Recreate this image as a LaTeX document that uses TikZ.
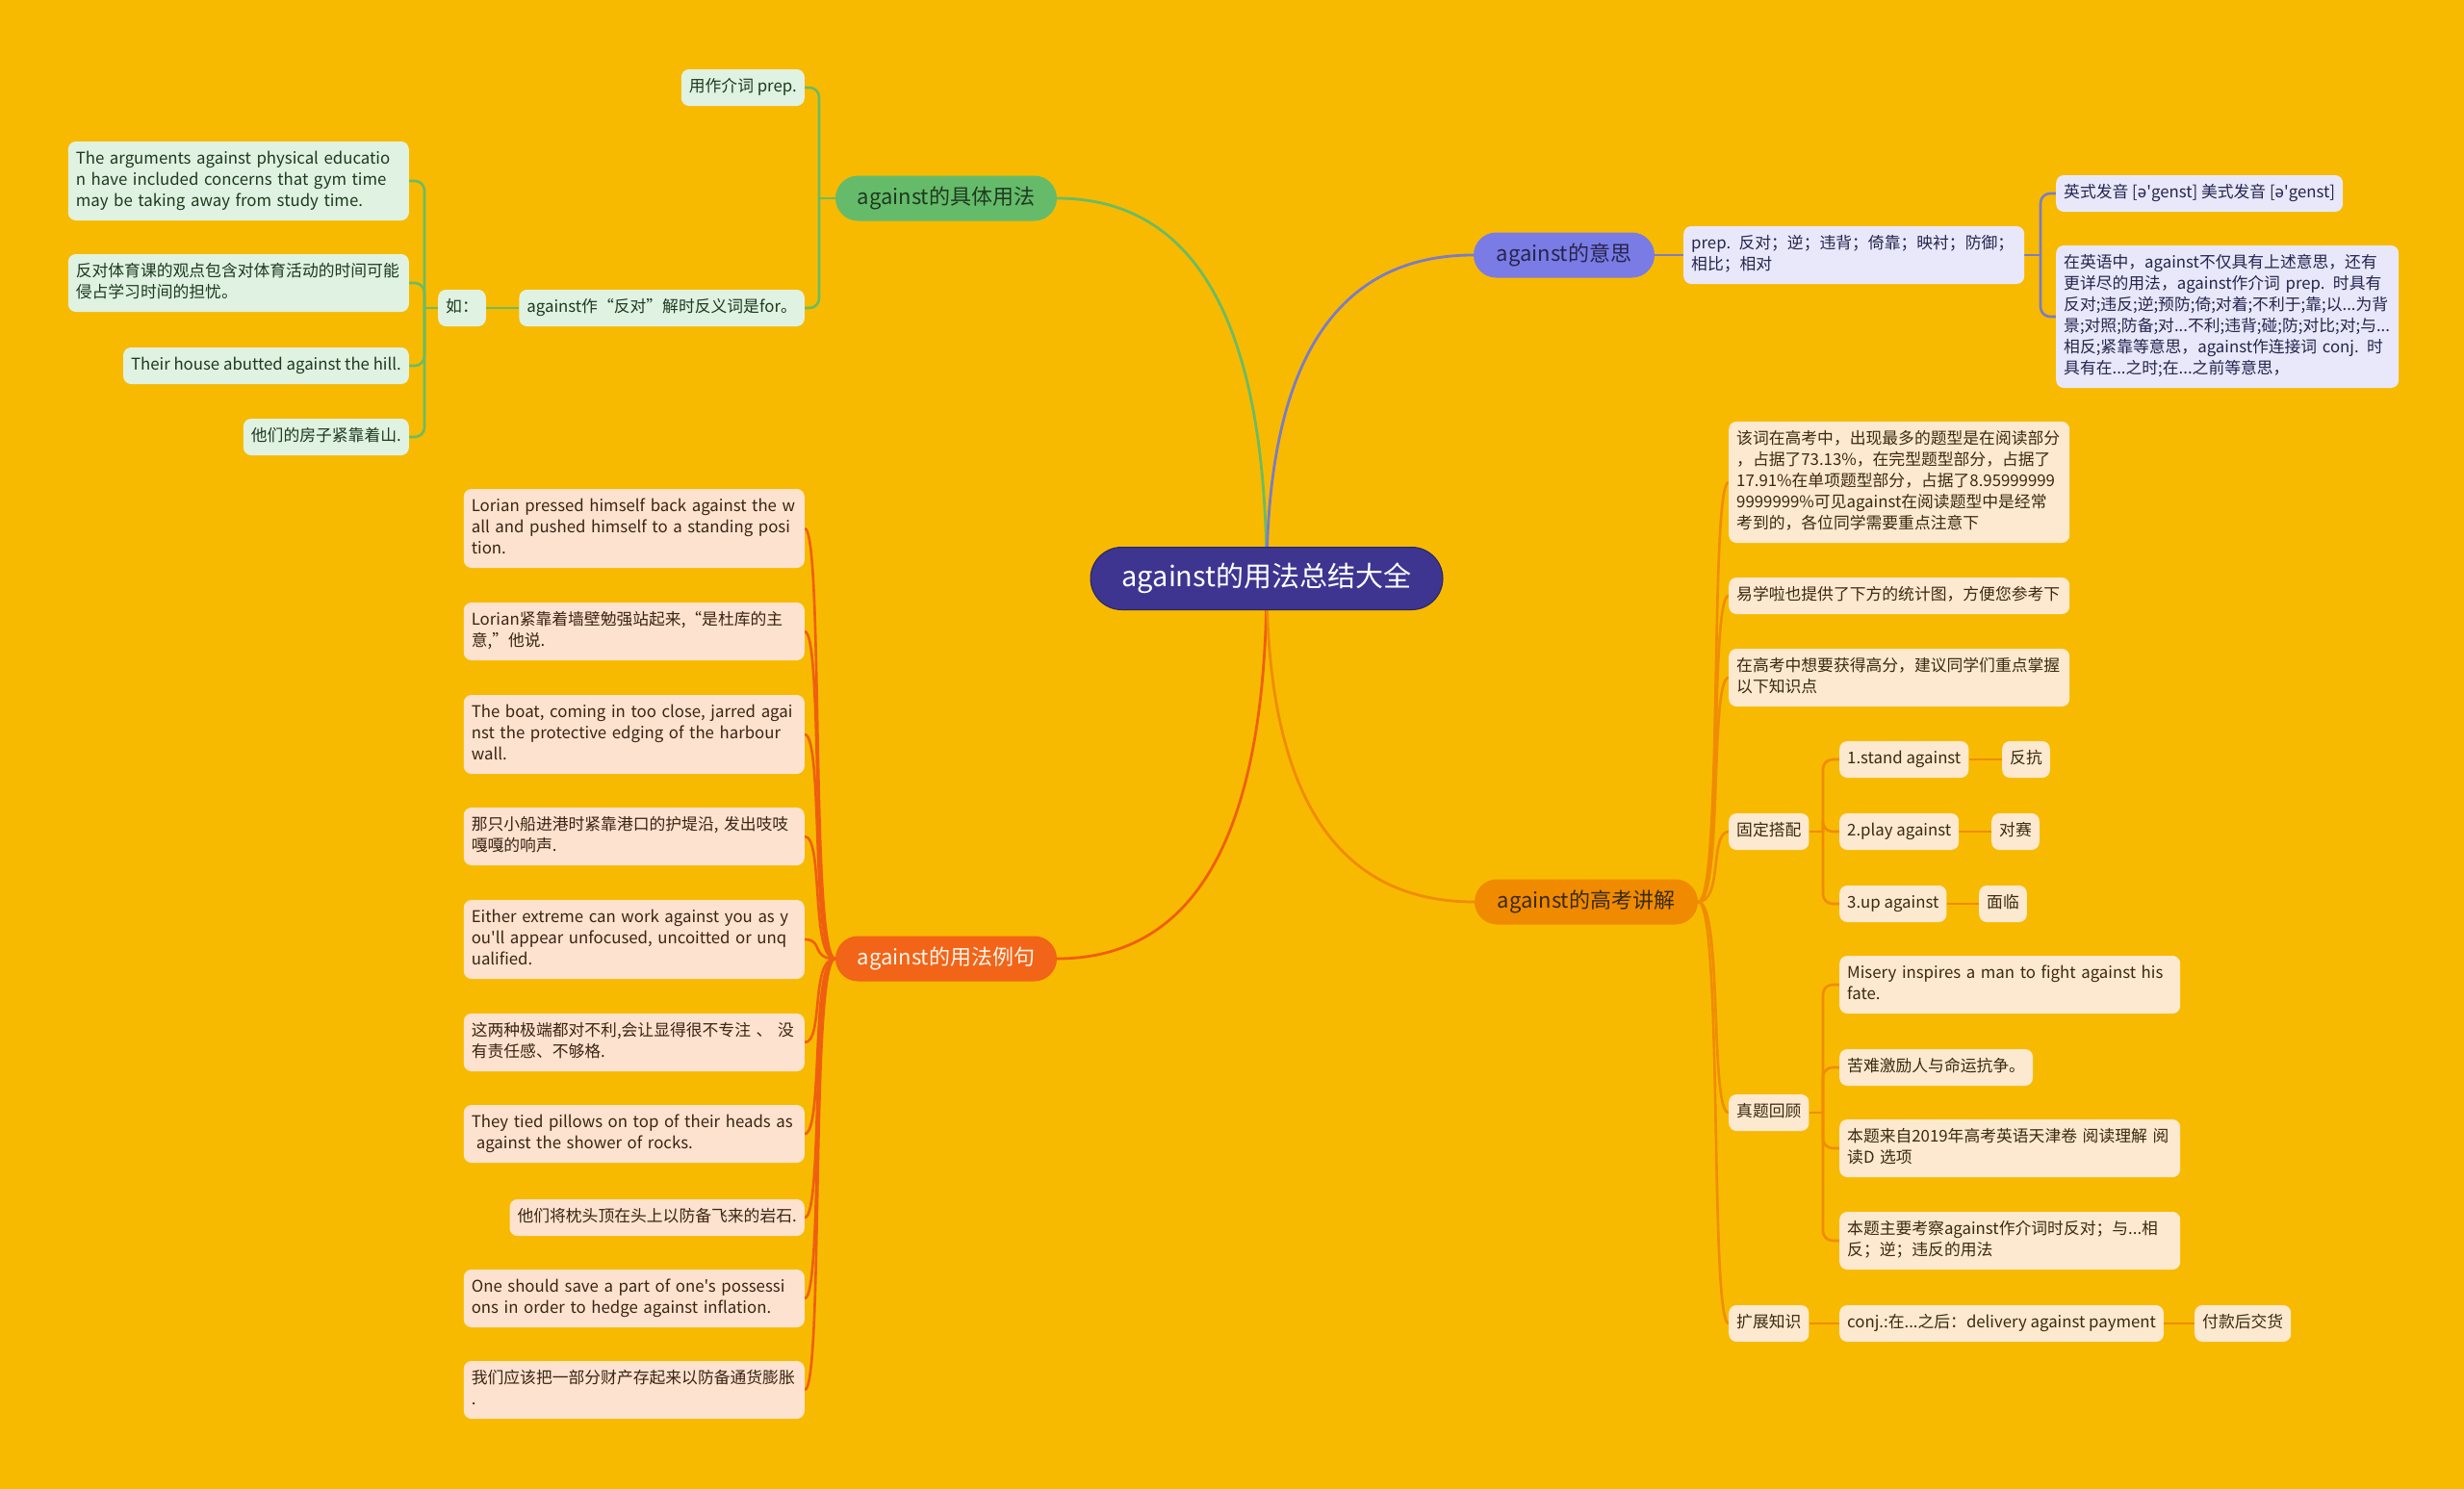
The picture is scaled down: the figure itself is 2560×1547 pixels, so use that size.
\documentclass[tikz,border=0pt]{standalone}
\usepackage{fontspec}
\setmainfont{Noto Sans CJK SC}[Ligatures=TeXOff]
\newfontfamily\ipafont{Noto Sans}[Ligatures=TeXOff]
\usetikzlibrary{calc}
\pgfdeclarelayer{bgl}
\pgfdeclarelayer{conn}
\pgfsetlayers{bgl,conn,main}
\definecolor{bgc}{HTML}{F7BA00}
\definecolor{cfill}{HTML}{3D3590}
\definecolor{gfill}{HTML}{66BB6A}
\definecolor{gline}{HTML}{6DBB63}
\definecolor{gleaff}{HTML}{E0F2E1}
\definecolor{gtext}{HTML}{1E3A20}
\definecolor{bfill}{HTML}{7B7BE6}
\definecolor{bline}{HTML}{7C7CC4}
\definecolor{bleaff}{HTML}{E8E8FA}
\definecolor{btext}{HTML}{25254F}
\definecolor{rfill}{HTML}{F26418}
\definecolor{rline}{HTML}{EF5F0F}
\definecolor{rleaff}{HTML}{FDE2CF}
\definecolor{rtext}{HTML}{3A2414}
\definecolor{ofill}{HTML}{F08A00}
\definecolor{oline}{HTML}{F08C00}
\definecolor{oleaff}{HTML}{FDE9CF}
\definecolor{otext}{HTML}{3A2A12}
\tikzset{
  leaf/.style={rounded corners=8pt, inner xsep=8pt, inner ysep=8pt, align=left,
    font=\fontsize{16.8}{22}\selectfont,
    execute at begin node=\strut, execute at end node=\strut},
  wide/.style={text width=338pt},
  gleaf/.style={leaf, fill=gleaff, text=gtext},
  bleaf/.style={leaf, fill=bleaff, text=btext},
  rleaf/.style={leaf, fill=rleaff, text=rtext},
  oleaf/.style={leaf, fill=oleaff, text=otext},
  mainbr/.style={rounded corners=23.5pt, minimum height=47pt, minimum width=230pt,
    inner xsep=10pt, inner ysep=0pt, font=\fontsize{22}{26}\selectfont},
  conline/.style={line width=2.6pt},
}
\begin{document}
\begin{tikzpicture}[x=1pt,y=-1pt]
\begin{pgfonlayer}{bgl}
\fill[bgc] (0,0) rectangle (2560,1547);
\end{pgfonlayer}
\useasboundingbox (0,0) rectangle (2560,1547);

% centre
\node[rounded corners=32.5pt, minimum width=366pt, minimum height=65pt, fill=cfill,
  draw=cfill!70!black, line width=1pt, text=white, font=\fontsize{29}{34}\selectfont] (C) at (1316,601) {against的用法总结大全};

% main branches
\node[mainbr, fill=gfill, text=gtext] (jt) at (983,206) {against的具体用法};
\node[mainbr, fill=bfill, text=btext, minimum width=188pt] (ys) at (1625,265) {against的意思};
\node[mainbr, fill=rfill, text=white!92!orange] (lj) at (983,996) {against的用法例句};
\node[mainbr, fill=ofill, text=otext, minimum width=232pt] (gk) at (1648,937) {against的高考讲解};

% green leaves
\node[gleaf, anchor=east] (g1) at (836,91) {用作介词 prep.};
\node[gleaf, anchor=east] (g2) at (836,320) {against作“反对”解时反义词是for。};
\node[gleaf, anchor=east] (ru) at (505,320) {如：};
\node[gleaf, wide, anchor=east] (g3) at (425,188) {The arguments against physical educatio\\n have included concerns that gym time\\may be taking away from study time.};
\node[gleaf, wide, anchor=east] (g4) at (425,294) {反对体育课的观点包含对体育活动的时间可能\\侵占学习时间的担忧。};
\node[gleaf, anchor=east] (g5) at (425,380) {Their house abutted against the hill.};
\node[gleaf, anchor=east] (g6) at (425,454) {他们的房子紧靠着山.};

% blue leaves
\node[bleaf, wide, anchor=west] (b1) at (1749,265) {prep. 反对；逆；违背；倚靠；映衬；防御；\\相比；相对};
\node[bleaf, anchor=west] (b2) at (2136,201) {英式发音 [{\ipafont ə}'genst] 美式发音 [{\ipafont ə}'genst]};
\node[bleaf, text width=340pt, anchor=west] (b3) at (2136,329) {在英语中，against不仅具有上述意思，还有\\更详尽的用法，against作介词 prep. 时具有\\反对;违反;逆;预防;倚;对着;不利于;靠;以...为背\\景;对照;防备;对...不利;违背;碰;防;对比;对;与...\\相反;紧靠等意思，against作连接词 conj. 时\\具有在...之时;在...之前等意思，};

% example sentences
\node[rleaf, wide, anchor=east] (e1) at (836,549) {Lorian pressed himself back against the w\\all and pushed himself to a standing posi\\tion.};
\node[rleaf, wide, anchor=east] (e2) at (836,656) {Lorian紧靠着墙壁勉强站起来,“是杜库的主\\意,”他说.};
\node[rleaf, wide, anchor=east] (e3) at (836,763) {The boat, coming in too close, jarred agai\\nst the protective edging of the harbour\\wall.};
\node[rleaf, wide, anchor=east] (e4) at (836,869) {那只小船进港时紧靠港口的护堤沿, 发出吱吱\\嘎嘎的响声.};
\node[rleaf, wide, anchor=east] (e5) at (836,976) {Either extreme can work against you as y\\ou'll appear unfocused, uncoitted or unq\\ualified.};
\node[rleaf, wide, anchor=east] (e6) at (836,1083) {这两种极端都对不利,会让显得很不专注 、 没\\有责任感、不够格.};
\node[rleaf, wide, anchor=east] (e7) at (836,1178) {They tied pillows on top of their heads as\\\hspace*{0.3em}against the shower of rocks.};
\node[rleaf, anchor=east] (e8) at (836,1265) {他们将枕头顶在头上以防备飞来的岩石.};
\node[rleaf, wide, anchor=east] (e9) at (836,1349) {One should save a part of one's possessi\\ons in order to hedge against inflation.};
\node[rleaf, wide, anchor=east] (e10) at (836,1444) {我们应该把一部分财产存起来以防备通货膨胀\\.};

% gaokao leaves
\node[oleaf, wide, anchor=west] (k1) at (1796,501) {该词在高考中，出现最多的题型是在阅读部分\\，占据了73.13\%，在完型题型部分，占据了\\17.91\%在单项题型部分，占据了8.95999999\\9999999\%可见against在阅读题型中是经常\\考到的，各位同学需要重点注意下};
\node[oleaf, wide, anchor=west] (k2) at (1796,619) {易学啦也提供了下方的统计图，方便您参考下};
\node[oleaf, wide, anchor=west] (k3) at (1796,704) {在高考中想要获得高分，建议同学们重点掌握\\以下知识点};
\node[oleaf, anchor=west] (k4) at (1796,864) {固定搭配};
\node[oleaf, anchor=west] (k5) at (1796,1156) {真题回顾};
\node[oleaf, anchor=west] (k6) at (1796,1375) {扩展知识};

\node[oleaf, anchor=west] (f1) at (1911,789) {1.stand against};
\node[oleaf, anchor=west] (f1b) at (2080,789) {反抗};
\node[oleaf, anchor=west] (f2) at (1911,864) {2.play against};
\node[oleaf, anchor=west] (f2b) at (2069,864) {对赛};
\node[oleaf, anchor=west] (f3) at (1911,939) {3.up against};
\node[oleaf, anchor=west] (f3b) at (2056,939) {面临};

\node[oleaf, wide, anchor=west] (z1) at (1911,1023) {Misery inspires a man to fight against his\\fate.};
\node[oleaf, anchor=west] (z2) at (1911,1109) {苦难激励人与命运抗争。};
\node[oleaf, wide, anchor=west] (z3) at (1911,1193) {本题来自2019年高考英语天津卷 阅读理解 阅\\读D 选项};
\node[oleaf, wide, anchor=west] (z4) at (1911,1289) {本题主要考察against作介词时反对；与...相\\反；逆；违反的用法};

\node[oleaf, anchor=west] (x1) at (1911,1375) {conj.:在...之后：delivery against payment};
\node[oleaf, anchor=west] (x1b) at (2280,1375) {付款后交货};

\begin{pgfonlayer}{conn}
% main curves
\draw[gline, line width=2.8pt] (C.center) .. controls ($(C.center)!0.667!(1316,206)$) and ($(jt.east)!0.667!(1316,206)$) .. (jt.east);
\draw[bline, line width=2.8pt] (C.center) .. controls ($(C.center)!0.667!(1316,265)$) and ($(ys.west)!0.667!(1316,265)$) .. (ys.west);
\draw[rline, line width=2.8pt] (C.center) .. controls ($(C.center)!0.667!(1316,996)$) and ($(lj.east)!0.667!(1316,996)$) .. (lj.east);
\draw[oline, line width=2.8pt] (C.center) .. controls ($(C.center)!0.667!(1316,937)$) and ($(gk.west)!0.667!(1316,937)$) .. (gk.west);

% green
\draw[gline, conline] (jt.west) -- (851,206);
\foreach \c in {g1,g2} \draw[gline, conline, rounded corners=10pt] (851,206) |- (\c.east);
\draw[gline, conline] (g2.west) -- (ru.east);
\draw[gline, conline] (ru.west) -- (441,320);
\foreach \c in {g3,g4,g5,g6} \draw[gline, conline, rounded corners=10pt] (441,320) |- (\c.east);

% blue
\draw[bline, conline] (ys.east) -- (b1.west);
\draw[bline, conline] (b1.east) -- (2120,265);
\foreach \c in {b2,b3} \draw[bline, conline, rounded corners=10pt] (2120,265) |- (\c.west);

% examples
\foreach \c in {e1,e2,e3,e4,e5,e6,e7,e8,e9,e10}
  \draw[rline, conline] (lj.west) .. controls +(-26,0) and +(20,0) .. (\c.east);

% gaokao
\foreach \c in {k1,k2,k3,k4,k5,k6}
  \draw[oline, conline] (gk.east) .. controls +(26,0) and +(-20,0) .. (\c.west);
\draw[oline, conline] (k4.east) -- (1894,864);
\foreach \c in {f1,f2,f3} \draw[oline, conline, rounded corners=10pt] (1894,864) |- (\c.west);
\draw[oline, conline] (f1.east) -- (f1b.west);
\draw[oline, conline] (f2.east) -- (f2b.west);
\draw[oline, conline] (f3.east) -- (f3b.west);
\draw[oline, conline] (k5.east) -- (1894,1156);
\foreach \c in {z1,z2,z3,z4} \draw[oline, conline, rounded corners=10pt] (1894,1156) |- (\c.west);
\draw[oline, conline] (k6.east) -- (x1.west);
\draw[oline, conline] (x1.east) -- (x1b.west);
\end{pgfonlayer}
\end{tikzpicture}
\end{document}
